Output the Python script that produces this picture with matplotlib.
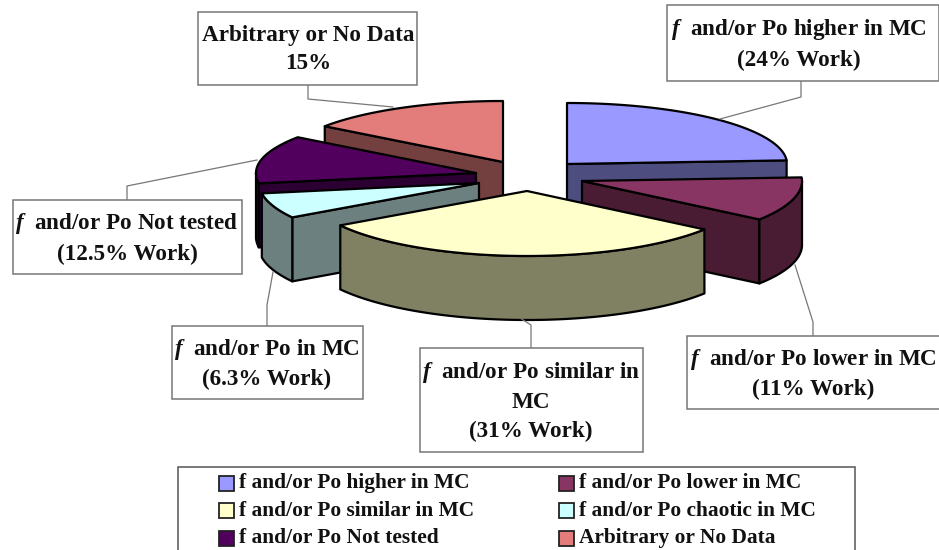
import numpy as np
import matplotlib
matplotlib.use("Agg")
import matplotlib.pyplot as plt
from matplotlib.patches import Polygon, Rectangle

# -----------------------
# data
# -----------------------
legend_names = ["f and/or Po higher in MC", "f and/or Po lower in MC",
                "f and/or Po similar in MC", "f and/or Po chaotic in MC",
                "f and/or Po Not tested", "Arbitrary or No Data"]
values = [24, 11, 31, 6.3, 12.5, 15]
top_colors = ["#9999ff", "#883564", "#ffffcc", "#ccffff", "#52005e", "#e27d7b"]
side_colors = ["#4d4d80", "#4a1c34", "#808062", "#6d8080", "#2d0033", "#733f3f"]

labels = [r"$f$  and/or Po higher in MC" + "\n(24% Work)",
          r"$f$  and/or Po lower in MC" + "\n(11% Work)",
          r"$f$  and/or Po similar in" + "\nMC\n(31% Work)",
          r"$f$  and/or Po in MC" + "\n(6.3% Work)",
          r"$f$  and/or Po Not tested" + "\n(12.5% Work)",
          "Arbitrary or No Data\n15%"]

# layout, in pixels of the picture
apex = [(567, 164), (582, 181), (527, 191), (479, 183), (476, 173), (503, 162)]
label_boxes = [(667, 5, 272, 76), (687, 336, 255, 73), (420, 348, 223, 104),
               (172, 326, 191, 73), (13, 200, 229, 74), (198, 12, 219, 73)]
label_x = [799, 813, 531, 267, 127, 308]
leaders = [[(801, 81), (801, 97), (720, 119)],
           [(813, 336), (813, 322), (795, 265)],
           [(531, 348), (531, 325), (520, 318)],
           [(267, 326), (267, 305), (273, 272)],
           [(127, 200), (127, 186), (257, 160)],
           [(308, 85), (308, 99), (393, 107)]]
draw_order = [5, 4, 0, 3, 1, 2]
rx, ry_back, ry_front, depth = 220, 61, 65, 64

plt.rcParams["font.family"] = "Liberation Serif"
plt.rcParams["font.weight"] = "bold"
plt.rcParams["mathtext.fontset"] = "custom"
plt.rcParams["mathtext.it"] = "Liberation Serif:italic:bold"

fig = plt.figure(figsize=(9.39, 5.5), dpi=100)
ax = fig.add_axes([0, 0, 1, 1])
ax.set_xlim(0, 939)
ax.set_ylim(550, 0)
ax.axis("off")

# slice angles, clockwise from the top
edges = np.concatenate([[0], np.cumsum(values)]) / np.sum(values) * 360


def rim(a0, a1, cx, cy):
    t = np.radians(np.linspace(a0, a1, 80))
    c = np.cos(t)
    return np.column_stack([cx + rx * np.sin(t), cy - np.where(c > 0, ry_back, ry_front) * c])


def wall(pts, color):
    low = pts[::-1] + [0, depth]
    ax.add_patch(Polygon(np.vstack([pts, low]), closed=True, fc=color, ec="black", lw=1.6, joinstyle="round"))


# -----------------------
# pie slices, back to front
# -----------------------
for i in draw_order:
    a0, a1 = edges[i], edges[i + 1]
    cx, cy = apex[i]
    arc = rim(a0, a1, cx, cy)
    # the cut face that looks at the viewer
    if a1 <= 180:
        wall(np.array([(cx, cy), arc[-1]]), side_colors[i])
    elif a0 >= 180:
        wall(np.array([(cx, cy), arc[0]]), side_colors[i])
    # the outer face, front half only
    f0, f1 = max(a0, 90), min(a1, 270)
    if f1 > f0:
        wall(rim(f0, f1, cx, cy), side_colors[i])
    ax.add_patch(Polygon(np.vstack([[(cx, cy)], arc]), closed=True, fc=top_colors[i], ec="black", lw=1.6, joinstyle="round"))

# -----------------------
# labels
# -----------------------
for text, (x, y, w, h), tx, line in zip(labels, label_boxes, label_x, leaders):
    xs, ys = zip(*line)
    ax.plot(xs, ys, color="#777777", lw=0.9, zorder=5)
    ax.add_patch(Rectangle((x, y), w, h, fc="white", ec="#777777", lw=1.1, zorder=6))
    ax.text(tx, y + h / 2 + 1, text, ha="center", va="center",
            fontsize=16.7, linespacing=1.45, color="#111111", zorder=7)

# -----------------------
# legend
# -----------------------
ax.add_patch(Rectangle((178, 467), 677, 90, fc="white", ec="#555555", lw=1.1, zorder=6))
for i, name in enumerate(legend_names):
    row, col = i // 2, i % 2
    x0 = [219, 559][col]
    yc = 483 + row * 27.5
    ax.add_patch(Rectangle((x0, yc - 7.5), 15, 15, fc=top_colors[i], ec="#222222", lw=1.3, zorder=7))
    ax.text(x0 + 20, yc, name, ha="left", va="center", fontsize=15.4, color="#111111", zorder=7)

fig.savefig("out.png", dpi=100)
